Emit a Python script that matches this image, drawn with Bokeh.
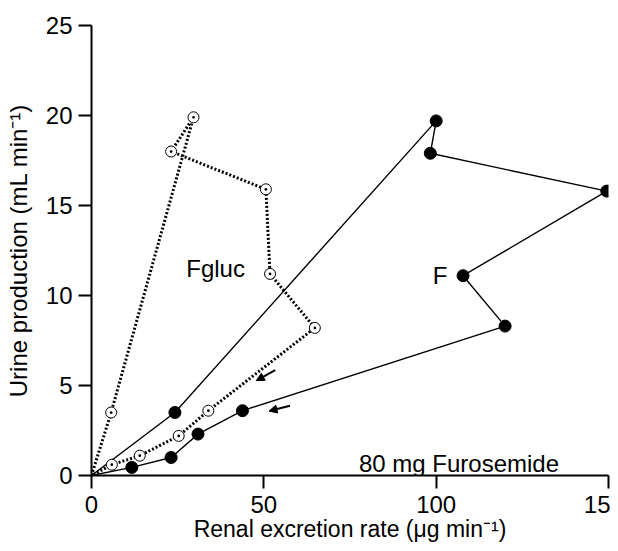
from bokeh.plotting import figure
from bokeh.models import Range1d, FixedTicker, Arrow, NormalHead
from bokeh.core.properties import value
from bokeh.embed import file_html
from bokeh.resources import INLINE

# Furosemide (F): path starts and ends at the origin
f_x = [0, 24.2, 100.0, 98.3, 149.5, 107.8, 120.0, 43.8, 30.9, 23.1, 11.7, 0]
f_y = [0, 3.5, 19.7, 17.9, 15.8, 11.1, 8.3, 3.6, 2.3, 1.0, 0.45, 0]

# Furosemide glucuronide (Fgluc)
g_x = [0, 5.7, 29.6, 23.1, 50.6, 51.8, 64.8, 33.9, 25.3, 14.0, 5.9, 0]
g_y = [0, 3.5, 19.9, 18.0, 15.9, 11.2, 8.2, 3.6, 2.2, 1.1, 0.6, 0]

x_ticks = [0, 50, 100, 150]
x_tick_labels = ["0", "50", "100", "15"]   # last label is cut off in the original
y_ticks = [0, 5, 10, 15, 20, 25]

labels_text = ["Fgluc", "F", "80 mg Furosemide"]
labels_x = [27.5, 99.0, 77.6]
labels_y = [11.5, 11.1, 0.66]

# direction arrows (tail -> head)
arrow_x_start = [53.3, 57.6]
arrow_y_start = [5.85, 3.87]
arrow_x_end = [47.8, 51.5]
arrow_y_end = [5.27, 3.58]

x_title = "Renal excretion rate (\u03bcg min\u207b\u00b9)"
y_title = "Urine production (mL min\u207b\u00b9)"

FONT = "Liberation Sans"

p = figure(width=610, height=551, output_backend="svg", toolbar_location=None,
           x_range=Range1d(0, 150), y_range=Range1d(0, 25),
           min_border_left=91, min_border_right=2, min_border_top=25, min_border_bottom=76)
p.outline_line_color = None
p.grid.visible = False
p.background_fill_color = "white"

for ax, ticks in ((p.xaxis[0], x_ticks), (p.yaxis[0], y_ticks)):
    ax.ticker = FixedTicker(ticks=ticks)
    ax.minor_tick_line_color = None
    ax.major_tick_in = 0
    ax.major_tick_out = 13
    ax.major_tick_line_width = 2
    ax.axis_line_width = 2
    ax.axis_line_color = "black"
    ax.major_tick_line_color = "black"
    ax.major_label_text_font = FONT
    ax.major_label_text_font_size = "24px"
    ax.major_label_text_color = "black"
    ax.axis_label_text_font = FONT
    ax.axis_label_text_font_style = "normal"
    ax.axis_label_text_color = "black"

p.xaxis.major_label_overrides = {t: s for t, s in zip(x_ticks, x_tick_labels)}
p.xaxis.major_label_standoff = 7
p.xaxis.axis_label = x_title
p.xaxis.axis_label_text_font_size = "23px"
p.xaxis.axis_label_standoff = 0
p.yaxis.major_label_standoff = 6
p.yaxis.axis_label = y_title
p.yaxis.axis_label_text_font_size = "24px"
p.yaxis.axis_label_standoff = 11

# lines
p.line(f_x, f_y, line_color="black", line_width=1.4)
p.line(g_x, g_y, line_color="black", line_width=3, line_dash="2 2")

# markers
p.scatter(f_x[1:-1], f_y[1:-1], marker="circle", size=12,
          fill_color="black", line_color="black")
p.scatter(g_x[1:-1], g_y[1:-1], marker="circle_dot", size=11,
          fill_color="white", line_color="black", line_width=1)

# text labels
p.text(labels_x, labels_y, text=labels_text, text_font=value(FONT),
       text_font_size=value("24px"), text_align="left",
       text_baseline="alphabetic", text_color="black")

# arrows
for xs, ys, xe, ye in zip(arrow_x_start, arrow_y_start, arrow_x_end, arrow_y_end):
    p.add_layout(Arrow(end=NormalHead(size=8, fill_color="black", line_color="black"),
                       x_start=xs, y_start=ys, x_end=xe, y_end=ye,
                       line_width=2, line_color="black"))

open("out.html", "w").write(file_html(p, INLINE))
